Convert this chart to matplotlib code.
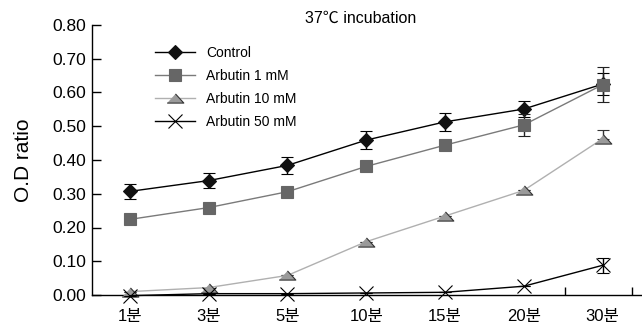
import matplotlib
matplotlib.use("Agg")
import matplotlib.pyplot as plt
from matplotlib.lines import Line2D
import numpy as np

plt.rcParams['font.family'] = ['Liberation Sans', 'Noto Sans CJK KR', 'DejaVu Sans']

categories = ['1분', '3분', '5분', '10분', '15분', '20분', '30분']
control = [0.307, 0.339, 0.384, 0.459, 0.513, 0.551, 0.625]
control_err = [0.022, 0.023, 0.025, 0.027, 0.027, 0.024, 0.032]
arb1 = [0.224, 0.259, 0.306, 0.381, 0.444, 0.504, 0.623]
arb1_err = [0.005, 0.005, 0.005, 0.005, 0.005, 0.033, 0.052]
arb10 = [0.010, 0.022, 0.058, 0.158, 0.234, 0.310, 0.463]
arb10_err_up = [0.0, 0.0, 0.0, 0.0, 0.0, 0.0, 0.027]
arb50 = [-0.002, 0.004, 0.004, 0.006, 0.008, 0.026, 0.088]
arb50_err = [0.0, 0.0, 0.0, 0.0, 0.0, 0.0, 0.022]
labels = ['Control', 'Arbutin 1 mM', 'Arbutin 10 mM', 'Arbutin 50 mM']
title = '37℃ incubation'
ylabel = 'O.D ratio'
yticks = [0.0, 0.1, 0.2, 0.3, 0.4, 0.5, 0.6, 0.7, 0.8]

fig = plt.figure(figsize=(6.42, 3.27), dpi=100)
ax = fig.add_axes([92/642, 1-295/327, 1-92/642, (295-25)/327])
x = np.arange(len(categories))

tri = [(-1, -0.55), (1, -0.55), (0, 0.55)]

styles = [
    dict(color='black', marker='D', ms=7.5, mfc='#111111', mec='#111111', mew=0.8),
    dict(color='#7a7a7a', marker='s', ms=8.5, mfc='#666666', mec='#666666', mew=0.8),
    dict(color='#b0b0b0', marker=tri, ms=12, mfc='#9a9a9a', mec='#333333', mew=0.8),
    dict(color='black', marker='x', ms=10, mec='black', mew=0.8),
]
ecolors = ['black', '#222222', '#333333', 'black']
zs = [3, 4, 3, 5]
yerrs = [control_err, arb1_err, [np.zeros(len(x)), arb10_err_up], arb50_err]
series = [control, arb1, arb10, arb50]

for y, err, st, ec, z in zip(series, yerrs, styles, ecolors, zs):
    ax.errorbar(x, y, yerr=err, lw=1.0, ecolor=ec, elinewidth=1.0, capsize=4.5,
                capthick=1.0, clip_on=False, zorder=z, **st)

ax.set_xlim(-0.48, 6.5)
ax.set_ylim(0, 0.8)
ax.set_yticks(yticks)
ax.set_yticklabels([f'{v:.2f}' for v in yticks], fontsize=12.5)
ax.set_xticks(x)
ax.set_xticklabels(categories, fontsize=12)
ax.set_xticks([5.52, 6.37], minor=True)
ax.tick_params(axis='x', which='major', length=0, pad=10)
ax.tick_params(axis='x', which='minor', direction='in', length=6, width=1)
ax.tick_params(axis='y', direction='in', length=6.5, width=1, pad=4)
for s in ['top', 'right']:
    ax.spines[s].set_visible(False)
for s in ['left', 'bottom']:
    ax.spines[s].set_linewidth(1.0)

ax.set_ylabel(ylabel, fontsize=15, labelpad=14)
fig.text(361/642, 1-18/327, title, ha='center', va='center', fontsize=11.5)

handles = [Line2D([], [], lw=1.0, **st) for st in styles]
leg = ax.legend(handles, labels, loc='upper left', bbox_to_anchor=(148/642, 1-39/327),
                bbox_transform=fig.transFigure, frameon=False, fontsize=10,
                handlelength=2.9, handletextpad=0.8, labelspacing=0.65, borderpad=0)

fig.savefig('out.png', dpi=100)
